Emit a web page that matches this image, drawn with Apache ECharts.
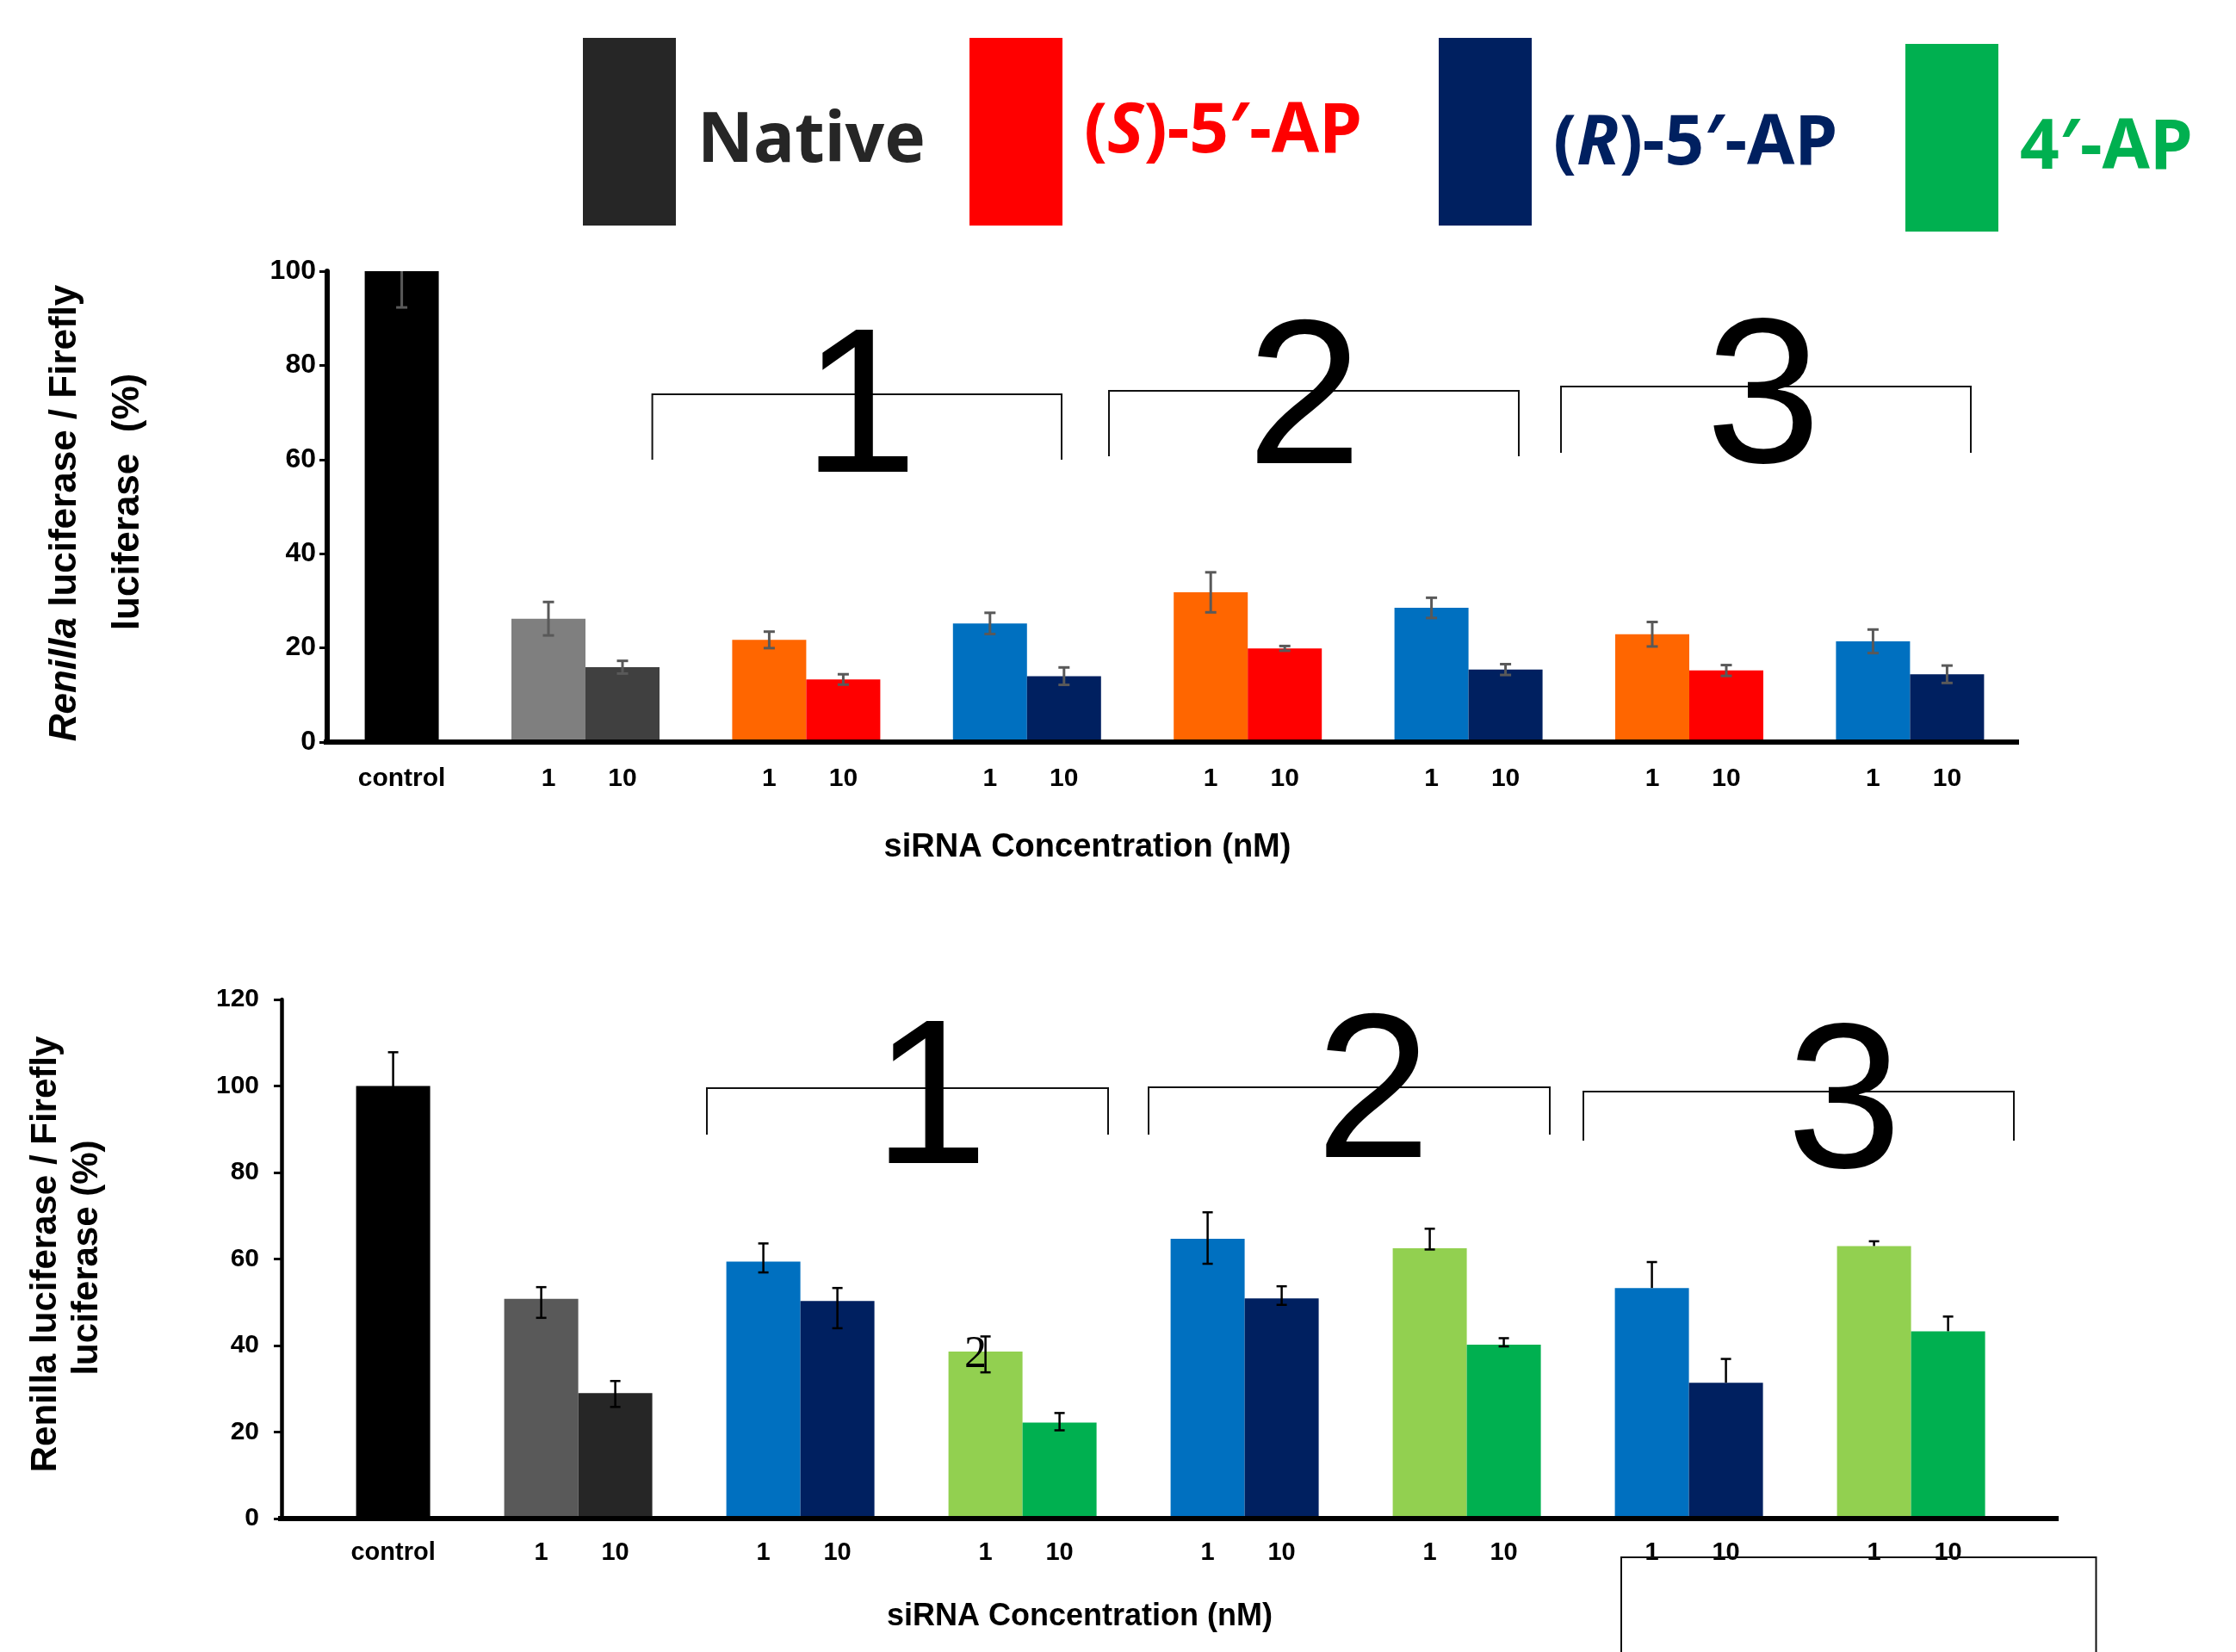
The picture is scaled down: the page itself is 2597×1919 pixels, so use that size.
<!DOCTYPE html>
<html><head><meta charset="utf-8">
<script src="https://cdn.jsdelivr.net/npm/echarts@6/dist/echarts.min.js"></script>
<style>html,body{margin:0;padding:0;background:#fff}#c{width:2597px;height:1919px}</style>
</head><body><div id="c"></div>
<script>
// ---------------- data ----------------
const topCategories = ['control','Native','(S)-5′-AP 1','(R)-5′-AP 1','(S)-5′-AP 2','(R)-5′-AP 2','(S)-5′-AP 3','(R)-5′-AP 3'];
const bottomCategories = ['control','Native','(R)-5′-AP 1','4′-AP 1','(R)-5′-AP 2','4′-AP 2','(R)-5′-AP 3','4′-AP 3'];
const concLabels = ['1','10'];
const controlLabel = 'control';
const legendNames = ['Native','(S)-5′-AP','(R)-5′-AP','4′-AP'];
const bracketLabels = ['1','2','3'];
const xAxisTitle = 'siRNA Concentration (nM)';

// top panel: 1 nM (left bar) and 10 nM (right bar); control sits in right slot
const topLow      = [null, 26.2, 21.7, 25.2, 31.8, 28.5, 22.9, 21.4];
const topLowErr   = [null, 3.55, 1.75, 2.25, 4.25, 2.15, 2.6, 2.5];
const topHigh     = [100, 15.9, 13.3, 14.0, 19.9, 15.4, 15.2, 14.4];
const topHighErr  = [7.7, 1.35, 1.1, 1.85, 0.5, 1.15, 1.15, 1.85];

// bottom panel
const botLow        = [null, 50.8, 59.4, 38.6, 64.7, 62.5, 53.3, 63.0];
const botLowPlus    = [null, 2.7, 4.2, 3.5, 6.1, 4.5, 6.0, 1.1];
const botLowMinus   = [null, 4.4, 2.5, 4.8, 5.8, 0.3, 0, 0];
const botHigh       = [100, 29.0, 50.3, 22.2, 50.9, 40.2, 31.4, 43.3];
const botHighPlus   = [7.8, 2.8, 3.0, 2.2, 2.8, 1.5, 5.5, 3.4];
const botHighMinus  = [7.8, 3.2, 6.3, 1.8, 1.5, 0.4, 0, 0];

// ---------------- styles ----------------
const topLowColors  = [null,'#7F7F7F','#FF6600','#0070C0','#FF6600','#0070C0','#FF6600','#0070C0'];
const topHighColors = ['#000000','#404040','#FF0000','#002060','#FF0000','#002060','#FF0000','#002060'];
const botLowColors  = [null,'#595959','#0070C0','#92D050','#0070C0','#92D050','#0070C0','#92D050'];
const botHighColors = ['#000000','#262626','#002060','#00B050','#002060','#00B050','#002060','#00B050'];
const legendColors  = ['#262626','#FF0000','#002060','#00B050'];
const SANS = 'Liberation Sans, Arial, sans-serif';
const BAR_W = 86;

function barSeries(gi, values, colors, fmt, dist, fs) {
  return {
    type: 'bar', xAxisIndex: gi, yAxisIndex: gi, barWidth: BAR_W, barGap: '0%',
    data: values.map((v, i) => v == null ? '-' : { value: v, itemStyle: { color: colors[i] } }),
    label: { show: true, position: 'bottom', distance: dist, formatter: fmt,
      fontSize: fs, fontWeight: 'bold', fontFamily: SANS, color: '#000' },
    silent: true
  };
}
function errSeries(gi, values, plus, minus, offset, color, lw, cap) {
  const data = [];
  values.forEach((v, i) => {
    if (v == null) return;
    data.push([i, v - minus[i], v + plus[i], minus[i] > 0 ? 1 : 0, plus[i] > 0 ? 1 : 0]);
  });
  return {
    type: 'custom', xAxisIndex: gi, yAxisIndex: gi, clip: true, z: 5, silent: true,
    data, encode: { x: 0, y: [1, 2] },
    renderItem(params, api) {
      const c = api.value(0);
      const x = api.coord([c, 0])[0] + offset;
      const yl = api.coord([c, api.value(1)])[1];
      const yh = api.coord([c, api.value(2)])[1];
      const st = { stroke: color, lineWidth: lw };
      const ch = [{ type: 'line', shape: { x1: x, y1: yl, x2: x, y2: yh }, style: st }];
      if (api.value(3)) ch.push({ type: 'line', shape: { x1: x - cap, y1: yl, x2: x + cap, y2: yl }, style: st });
      if (api.value(4)) ch.push({ type: 'line', shape: { x1: x - cap, y1: yh, x2: x + cap, y2: yh }, style: st });
      return { type: 'group', children: ch };
    }
  };
}

const chart = echarts.init(document.getElementById('c'), null, { renderer: 'canvas' });

const grids = [
  { left: 295.4, top: 315, width: 2051.2, height: 547 },
  { left: 284.6, top: 1161, width: 2064, height: 603 }
];

function yAx(gi, max, offset, axW, margin, fs) {
  return {
    type: 'value', gridIndex: gi, min: 0, max: max, interval: 20, offset: offset,
    axisLine: { show: true, lineStyle: { color: '#000', width: axW } },
    axisTick: { show: true, length: 9, lineStyle: { color: '#000', width: 3 } },
    axisLabel: { margin: margin, fontSize: fs, fontWeight: 'bold', fontFamily: SANS, color: '#000' },
    splitLine: { show: false }
  };
}
function xAx(gi, cats) {
  return { type: 'category', gridIndex: gi, data: cats, boundaryGap: true,
    axisLine: { show: false }, axisTick: { show: false }, axisLabel: { show: false } };
}

const legendBase = {
  icon: 'rect', itemWidth: 108, itemHeight: 218, padding: 0, selectedMode: false, orient: 'horizontal'
};
function legendText(color, padTop, rich) {
  return { fontSize: 80, fontWeight: 'bold', fontFamily: 'Noto Sans, Open Sans, sans-serif', color: color,
    padding: [padTop, 0, 0, 20], rich: rich || {} };
}
const italicRich = (c) => ({ it: { fontSize: 80, fontWeight: 'bold', fontStyle: 'italic',
  fontFamily: 'Noto Sans, Open Sans, sans-serif', color: c } });

const legends = [
  Object.assign({}, legendBase, { data: [legendNames[0]], left: 677, top: 44, textStyle: legendText(legendColors[0], 24) }),
  Object.assign({}, legendBase, { data: [legendNames[1]], left: 1126, top: 44,
    formatter: n => '({it|S})-5′-AP', textStyle: legendText(legendColors[1], 2, italicRich(legendColors[1])) }),
  Object.assign({}, legendBase, { data: [legendNames[2]], left: 1671, top: 44,
    formatter: n => '({it|R})-5′-AP', textStyle: legendText(legendColors[2], 30, italicRich(legendColors[2])) }),
  Object.assign({}, legendBase, { data: [legendNames[3]], left: 2213, top: 51, textStyle: legendText(legendColors[3], 26) })
];

function bracket(x1, x2, yTop, yBot) {
  return { type: 'polyline', z: 50, shape: { points: [[x1, yBot], [x1, yTop], [x2, yTop], [x2, yBot]] },
    style: { stroke: '#111', lineWidth: 2, fill: null } };
}
function bigDigit(t, x, y) {
  return { type: 'text', z: 60, x: x, y: y,
    style: { text: t, fontSize: 240, fontFamily: SANS, fill: '#000', align: 'center', verticalAlign: 'middle' } };
}
function rotText(x, y, text, fs, rich) {
  return { type: 'text', z: 60, x: x, y: y, rotation: Math.PI / 2,
    style: { text: text, fontSize: fs, fontWeight: 'bold', fontFamily: SANS, fill: '#000',
      align: 'center', verticalAlign: 'middle', rich: rich || {} } };
}
function plainText(x, y, text, fs) {
  return { type: 'text', z: 60, x: x, y: y,
    style: { text: text, fontSize: fs, fontWeight: 'bold', fontFamily: SANS, fill: '#000',
      align: 'center', verticalAlign: 'middle' } };
}

const graphics = [
  // x axis baselines
  { type: 'line', z: 40, shape: { x1: 376, y1: 862, x2: 2345, y2: 862 }, style: { stroke: '#000', lineWidth: 6 } },
  { type: 'line', z: 40, shape: { x1: 323, y1: 1764, x2: 2391, y2: 1764 }, style: { stroke: '#000', lineWidth: 6 } },
  // y titles
  rotText(76, 596, '{it|Renilla} luciferase / Firefly', 44,
    { it: { fontStyle: 'italic', fontWeight: 'bold', fontSize: 44, fontFamily: SANS, fill: '#000' } }),
  rotText(149, 583, 'luciferase  (%)', 44),
  rotText(53, 1457, 'Renilla luciferase / Firefly', 42),
  rotText(101, 1461, 'luciferase (%)', 42),
  // x titles
  plainText(1263, 985, xAxisTitle, 38),
  plainText(1254, 1878, xAxisTitle, 36),
  // brackets top
  bracket(757.6, 1233, 458, 534), bracket(1288, 1764, 454, 530), bracket(1813, 2289, 449, 526),
  // brackets bottom
  bracket(821, 1287, 1264, 1318), bracket(1334, 1800, 1263, 1318), bracket(1839, 2339, 1268, 1325),
  bracket(1883, 2434.5, 1809, 1930),
  // big labels
  bigDigit(bracketLabels[0], 999, 482), bigDigit(bracketLabels[1], 1515, 472), bigDigit(bracketLabels[2], 2048, 471),
  bigDigit(bracketLabels[0], 1081, 1285), bigDigit(bracketLabels[1], 1595, 1278), bigDigit(bracketLabels[2], 2142, 1290),
  // stray mark
  { type: 'text', z: 60, x: 1133, y: 1574,
    style: { text: '2', fontSize: 52, fontFamily: 'Liberation Serif, serif', fill: '#000', align: 'center', verticalAlign: 'middle' } }
];

const option = {
  animation: false,
  backgroundColor: '#fff',
  grid: grids,
  xAxis: [xAx(0, topCategories), xAx(1, bottomCategories)],
  yAxis: [yAx(0, 100, -84.6, 6, 13, 32), yAx(1, 120, -42.4, 4.5, 26, 30)],
  legend: legends,
  series: [
    barSeries(0, topLow, topLowColors, () => concLabels[0], 28, 30),
    barSeries(0, topHigh, topHighColors, p => p.dataIndex === 0 ? controlLabel : concLabels[1], 28, 30),
    errSeries(0, topLow, topLowErr, topLowErr, -BAR_W / 2, '#595959', 3, 6.5),
    errSeries(0, topHigh, topHighErr, topHighErr, BAR_W / 2, '#595959', 3, 6.5),
    barSeries(1, botLow, botLowColors, () => concLabels[0], 25, 29),
    barSeries(1, botHigh, botHighColors, p => p.dataIndex === 0 ? controlLabel : concLabels[1], 25, 29),
    errSeries(1, botLow, botLowPlus, botLowMinus, -BAR_W / 2, '#000', 2.5, 6),
    errSeries(1, botHigh, botHighPlus, botHighMinus, BAR_W / 2, '#000', 2.5, 6),
    // legend entries
    ...legendNames.map((n, i) => ({ type: 'scatter', name: n, xAxisIndex: 0, yAxisIndex: 0, data: [],
      itemStyle: { color: legendColors[i], opacity: 1 } }))
  ],
  graphic: graphics
};
chart.setOption(option);
</script>
</body></html>
